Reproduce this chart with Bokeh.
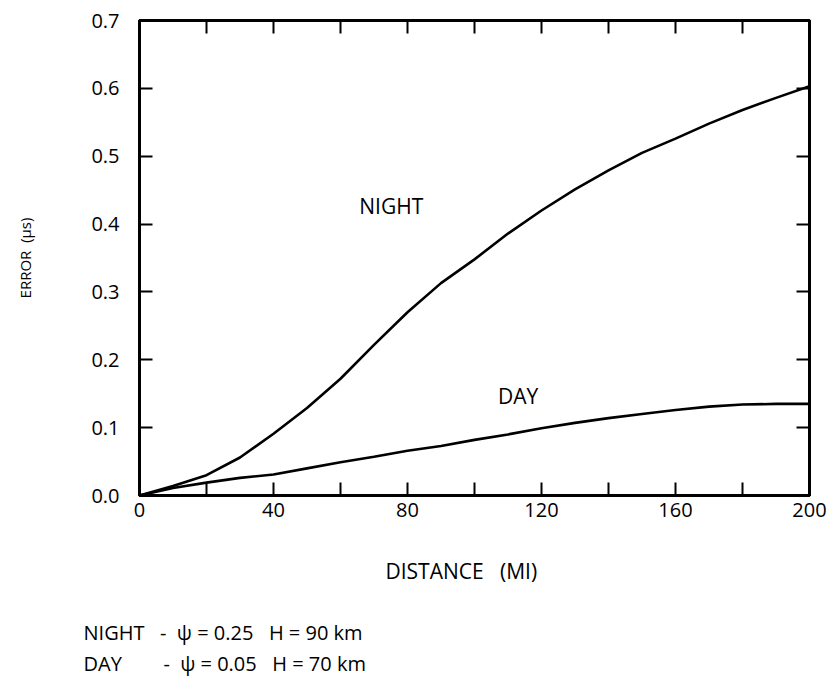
import math
from bokeh.plotting import figure
from bokeh.models import Range1d, LinearAxis, FixedTicker, Label, Title, CustomLabelingPolicy
from bokeh.embed import file_html
from bokeh.resources import INLINE

# ---- data ----
distance_mi = [0, 10, 20, 30, 40, 50, 60, 70, 80, 90, 100,
               110, 120, 130, 140, 150, 160, 170, 180, 190, 200]
night_error = [0.0, 0.014, 0.030, 0.056, 0.091, 0.129, 0.172, 0.222, 0.270, 0.313, 0.348,
               0.386, 0.420, 0.451, 0.479, 0.505, 0.526, 0.548, 0.568, 0.586, 0.603]
day_error = [0.0, 0.011, 0.019, 0.026, 0.031, 0.040, 0.049, 0.057, 0.066, 0.073, 0.082,
             0.090, 0.099, 0.107, 0.114, 0.120, 0.126, 0.131, 0.134, 0.135, 0.135]
x_major_ticks = [0, 40, 80, 120, 160, 200]
x_minor_ticks = [20, 60, 100, 140, 180]
x_all_ticks = [0, 20, 40, 60, 80, 100, 120, 140, 160, 180, 200]
y_ticks = [0.0, 0.1, 0.2, 0.3, 0.4, 0.5, 0.6, 0.7]
y_tick_labels = ["0.0", "0.1", "0.2", "0.3", "0.4", "0.5", "0.6", "0.7"]
NB = "\u00a0"
x_title = "DISTANCE" + NB * 3 + "(MI)"
y_title = "ERROR" + NB * 2 + "(μs)"
curve_names = ["NIGHT", "DAY"]
footnote_lines = ["NIGHT" + NB * 3 + "-" + NB * 2 + "ψ" + NB + "=" + NB + "0.25" + NB * 3 + "H = 90 km",
                  "DAY" + NB * 8 + "-" + NB * 2 + "ψ" + NB + "=" + NB + "0.05" + NB * 3 + "H = 70 km"]

FONT = "Open Sans"

p = figure(width=827, height=678, output_backend="svg", toolbar_location=None,
           x_range=Range1d(0, 200), y_range=Range1d(0, 0.7),
           min_border_left=139, min_border_right=14, min_border_top=20, min_border_bottom=183,
           x_axis_type=None, y_axis_type=None)
p.grid.visible = False
p.background_fill_color = "white"
p.border_fill_color = "white"
p.outline_line_color = "black"
p.outline_line_width = 3

no_labels = CustomLabelingPolicy(code="for (const i of indices) { indices.unset(i) }; return indices")


def style_axis(ax, show_labels):
    ax.axis_line_width = 3
    ax.axis_line_color = "black"
    ax.major_tick_in = 13
    ax.major_tick_out = 0
    ax.major_tick_line_width = 2
    ax.minor_tick_in = 13
    ax.minor_tick_out = 0
    ax.minor_tick_line_width = 2
    if show_labels:
        ax.major_label_text_font = FONT
        ax.major_label_text_color = "black"
        ax.major_label_text_font_size = "20px"
    else:
        ax.major_label_policy = no_labels
        ax.major_label_standoff = 0


# bottom axis
xb = LinearAxis(ticker=FixedTicker(ticks=x_major_ticks, minor_ticks=x_minor_ticks))
style_axis(xb, True)
xb.major_label_standoff = 7
p.add_layout(xb, "below")

# top axis
xt = LinearAxis(ticker=FixedTicker(ticks=x_all_ticks))
style_axis(xt, False)
p.add_layout(xt, "above")

# left axis
yl = LinearAxis(ticker=FixedTicker(ticks=y_ticks),
                major_label_overrides={t: s for t, s in zip(y_ticks, y_tick_labels)})
style_axis(yl, True)
yl.major_label_standoff = 20
yl.axis_label = y_title
yl.axis_label_text_font = FONT
yl.axis_label_text_font_size = "15px"
yl.axis_label_text_font_style = "normal"
yl.axis_label_text_color = "black"
yl.axis_label_standoff = 53
p.add_layout(yl, "left")

# right axis
yr = LinearAxis(ticker=FixedTicker(ticks=y_ticks))
style_axis(yr, False)
p.add_layout(yr, "right")

# curves
p.line(distance_mi, night_error, line_color="black", line_width=2.6)
p.line(distance_mi, day_error, line_color="black", line_width=2.6)

# in-plot labels
p.add_layout(Label(x=65.6, y=0.427, text=curve_names[0], text_font=FONT, text_font_size="21px",
                   text_color="black", text_baseline="middle", text_align="left"))
p.add_layout(Label(x=107.0, y=0.147, text=curve_names[1], text_font=FONT, text_font_size="21px",
                   text_color="black", text_baseline="middle", text_align="left"))

# x axis title (as a bottom title so it can be shifted)
p.add_layout(Title(text=x_title, align="left", offset=246, standoff=71,
                   text_font=FONT, text_font_size="21px", text_font_style="normal",
                   text_color="black"), "below")

# footnotes (two lines in one title)
p.add_layout(Title(text="\n".join(footnote_lines), align="left", offset=-56, standoff=-8,
                   text_font=FONT, text_font_size="20px", text_font_style="normal",
                   text_line_height=1.18, text_color="black"), "below")

open("out.html", "w").write(file_html(p, INLINE))
